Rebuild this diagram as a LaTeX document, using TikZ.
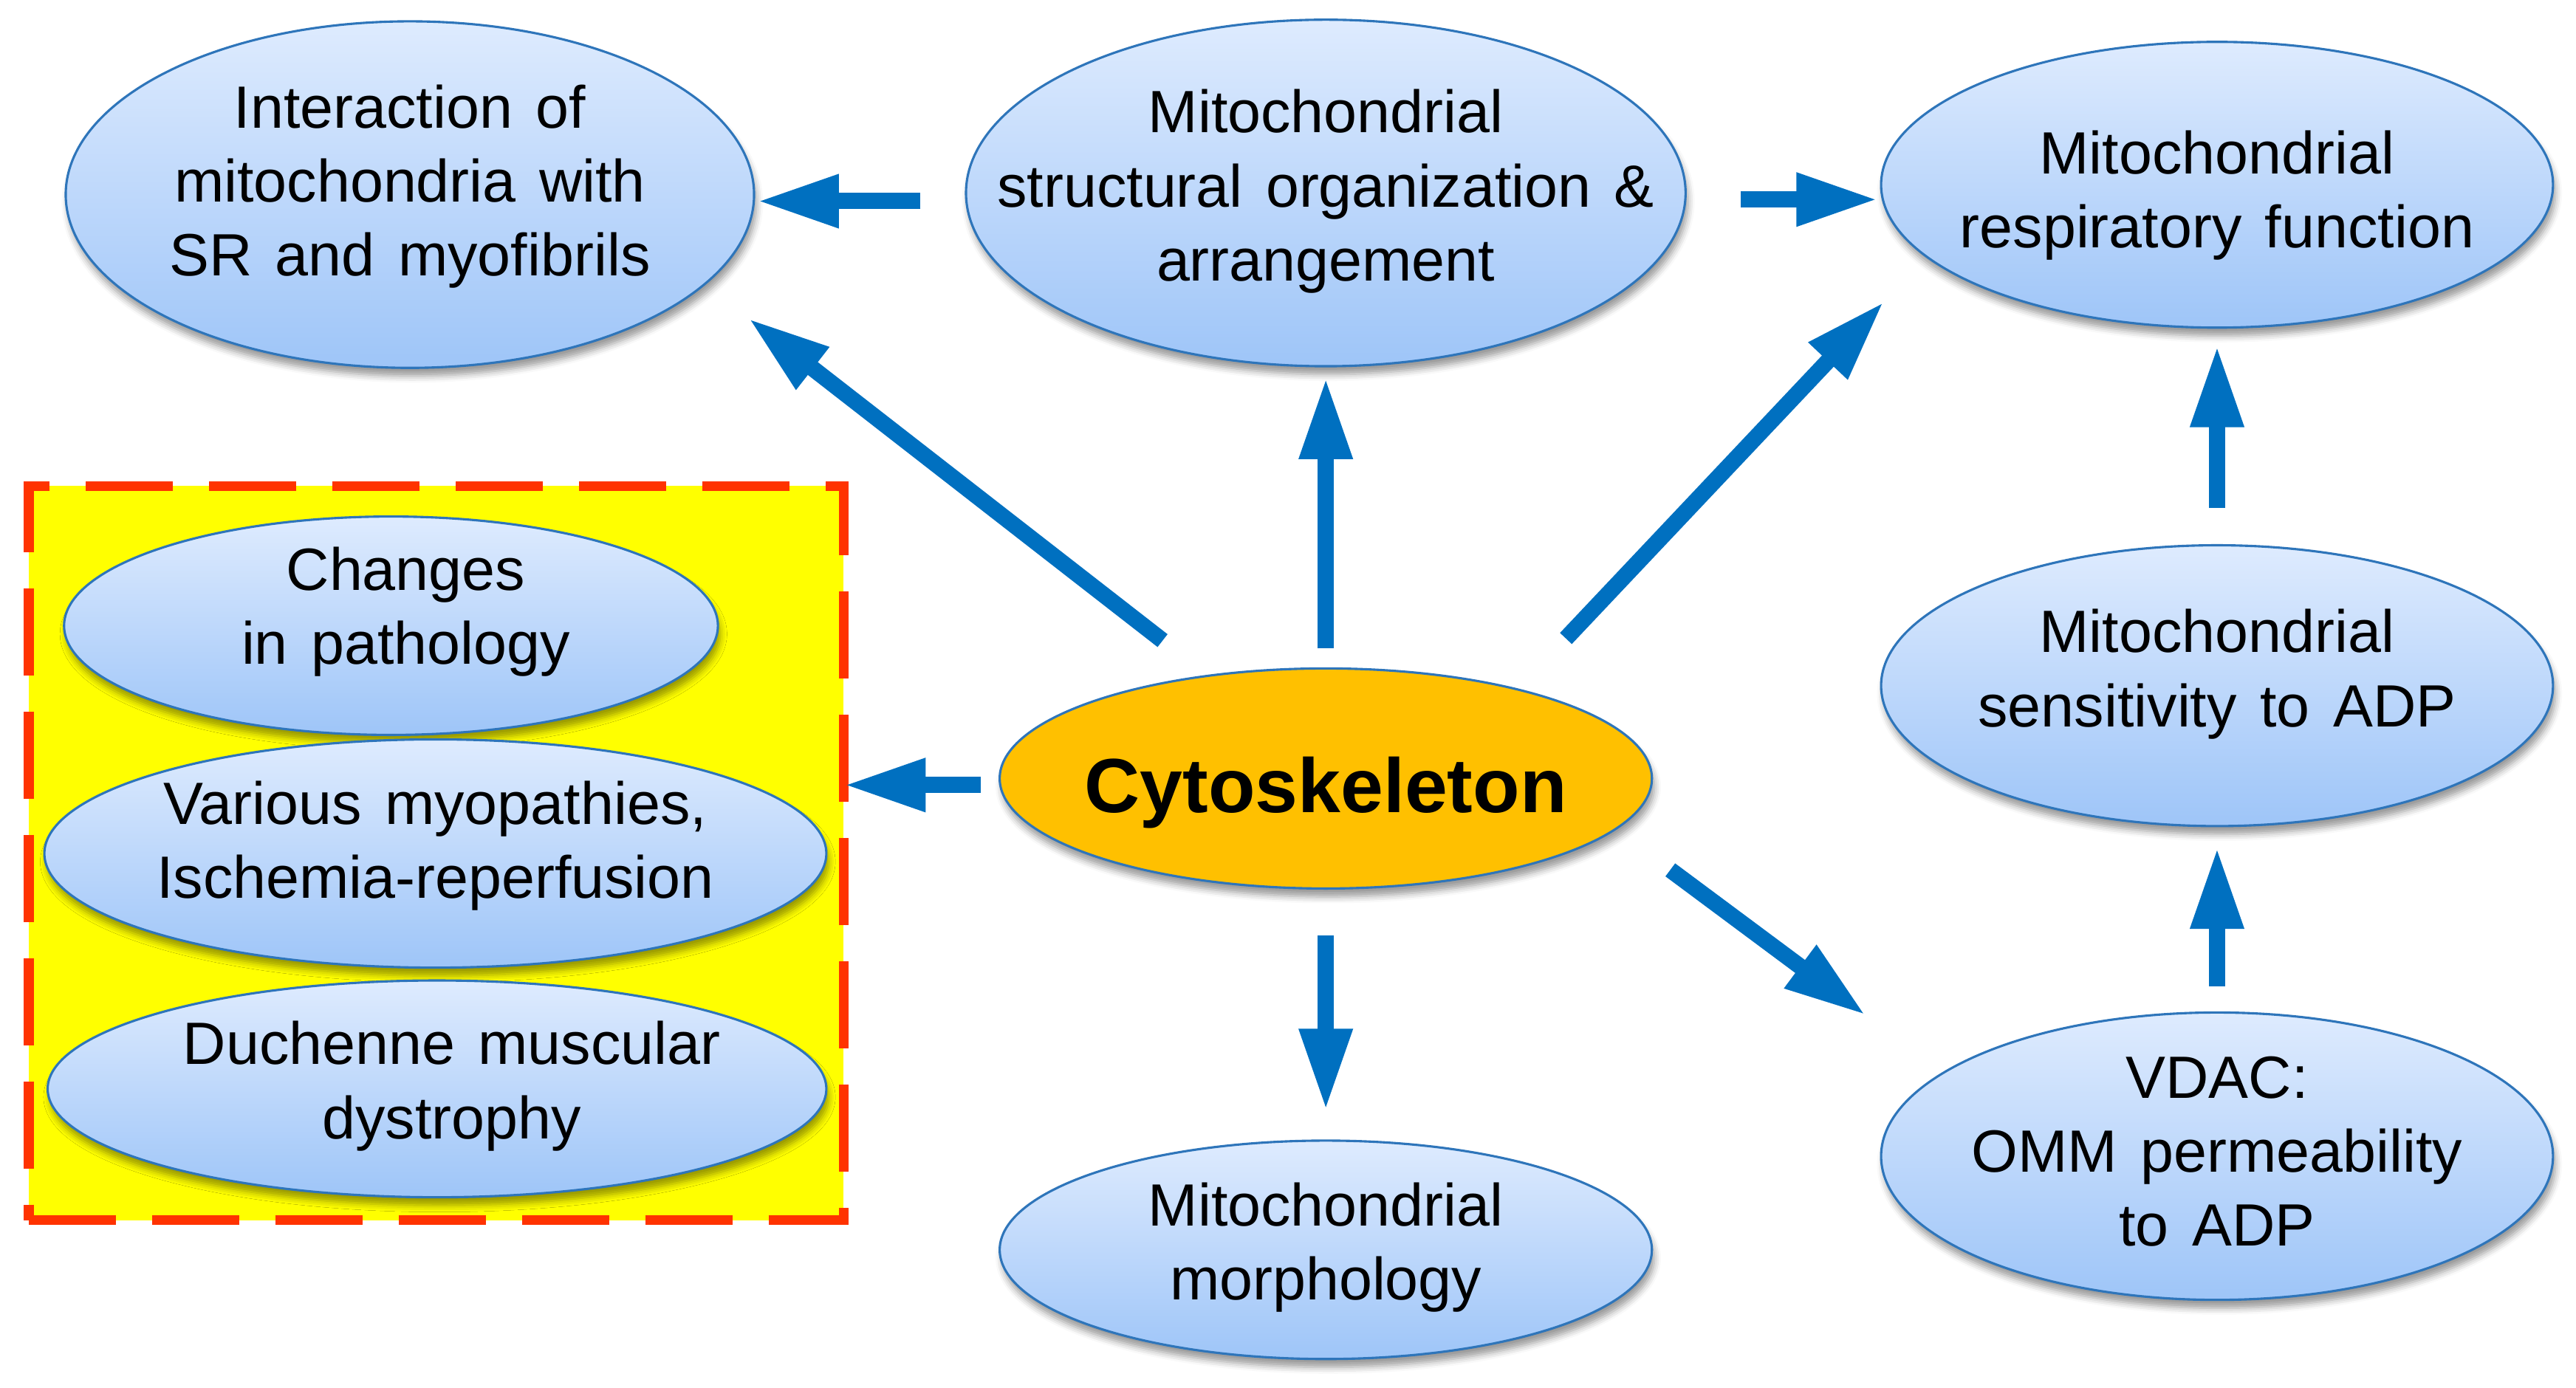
\documentclass[tikz,border=0pt]{standalone}
\usepackage{fontspec}
\setmainfont{Liberation Sans}[WordSpace=1.4]
\usetikzlibrary{shapes.geometric, arrows.meta, shadows.blur}
\definecolor{ovaltop}{RGB}{222, 235, 254}
\definecolor{ovalbottom}{RGB}{158, 197, 248}
\definecolor{ovalline}{RGB}{46, 117, 186}
\definecolor{corefill}{RGB}{255, 192, 0}
\definecolor{flowblue}{RGB}{0, 112, 192}
\definecolor{dashred}{RGB}{255, 51, 0}
\definecolor{boxyellow}{RGB}{255, 255, 0}
\newlength{\pxu}
\setlength{\pxu}{0.022245cm}
\tikzset{
    % Node Styles
    oval/.style={
        ellipse, draw=ovalline, line width=1.4\pxu, inner sep=0pt,
        blur shadow={shadow xshift=1.5\pxu, shadow yshift=-5\pxu,
            shadow blur radius=4\pxu, shadow opacity=40}
    },
    mito/.style={oval, top color=ovaltop, bottom color=ovalbottom},
    core/.style={oval, fill=corefill},
    ovaltext/.style={align=center, font=\fontsize{23}{28.5}\selectfont},
    coretext/.style={font=\bfseries\fontsize{29.6}{35}\selectfont},
    pathobox/.style={
        rectangle, draw=dashred, fill=boxyellow, inner sep=0pt,
        line width=0.133cm, dash pattern=on 1.18cm off 0.49cm
    },
    % Arrow Styles
    flow/.style={-{Triangle[length=1.11cm, width=0.67cm]}, line width=0.22cm, draw=flowblue}
}

\begin{document}
\begin{tikzpicture}[x=\pxu, y=-\pxu]

    \useasboundingbox (0,0) rectangle (1568,844.7);

    % --- 1. Central node ---
    \node [core, minimum width=397\pxu, minimum height=134\pxu,
        label={[coretext, yshift=-8.75\pxu]center:Cytoskeleton}] (cyto) at (807,474) {};

    % --- 2. Top row ---
    \node [mito, minimum width=419\pxu, minimum height=211\pxu,
        label={[ovaltext, yshift=5\pxu]center:{Interaction of\\mitochondria with\\SR and myofibrils}}] (inter) at (249.5,118.5) {};
    \node [mito, minimum width=438\pxu, minimum height=211\pxu,
        label={[ovaltext, yshift=1\pxu]center:{Mitochondrial\\structural organization \&\\arrangement}}] (struct) at (807,117.5) {};
    \node [mito, minimum width=409\pxu, minimum height=174\pxu,
        label={[ovaltext, yshift=-6.3\pxu]center:{Mitochondrial\\respiratory function}}] (resp) at (1349.5,112.5) {};

    % --- 3. Right column ---
    \node [mito, minimum width=409\pxu, minimum height=171\pxu,
        label={[ovaltext, yshift=7\pxu]center:{Mitochondrial\\sensitivity to ADP}}] (sens) at (1349.5,417.5) {};
    \node [mito, minimum width=409\pxu, minimum height=175\pxu,
        label={[ovaltext, yshift=3\pxu]center:{VDAC:\\OMM permeability\\to ADP}}] (vdac) at (1349.5,704) {};

    % --- 4. Bottom ---
    \node [mito, minimum width=397\pxu, minimum height=133\pxu,
        label={[ovaltext, yshift=1.4\pxu]center:{Mitochondrial\\morphology}}] (morph) at (807,761) {};

    % --- 5. Pathology box ---
    \node [pathobox, minimum width=496\pxu, minimum height=447\pxu] (patho) at (265.5,519.4) {};
    \node [mito, minimum width=398\pxu, minimum height=133\pxu,
        label={[ovaltext, yshift=8.5\pxu, xshift=9\pxu]center:{Changes\\in pathology}}] (changes) at (238,381) {};
    \node [mito, minimum width=476\pxu, minimum height=139\pxu,
        label={[ovaltext, yshift=4.7\pxu]center:{Various myopathies,\\Ischemia-reperfusion}}] (various) at (265,519.7) {};
    \node [mito, minimum width=474\pxu, minimum height=132\pxu,
        label={[ovaltext, yshift=1.7\pxu, xshift=9\pxu]center:{Duchenne muscular\\dystrophy}}] (duchenne) at (266,663) {};

    % --- 6. Arrows ---
    \draw [flow, shorten <=27\pxu, shorten >=1\pxu]
        ([yshift=-5\pxu]struct.west) -- ([yshift=-5\pxu]struct.west -| inter.east);
    \draw [flow, shorten <=33\pxu, shorten >=1\pxu]
        ([yshift=-4\pxu]struct.east) -- ([yshift=-4\pxu]struct.east -| resp.west);
    \draw [flow, shorten <=34\pxu, shorten >=33\pxu] (cyto.139) -- (inter.-17.3);
    \draw [flow, shorten <=11.4\pxu, shorten >=6\pxu] (cyto.north) -- (struct.south);
    \draw [flow, shorten <=42\pxu, shorten >=37\pxu] (cyto.25.3) -- (resp.194.9);
    \draw [flow, shorten <=22\pxu, shorten >=10\pxu] (sens.north) -- (resp.south);
    \draw [flow, shorten <=15.4\pxu, shorten >=12\pxu] (vdac.north) -- (sens.south);
    \draw [flow, shorten <=11\pxu, shorten >=-3\pxu]
        ([yshift=-4\pxu]cyto.west) -- ([yshift=-4\pxu]cyto.west -| patho.east);
    \draw [flow, shorten <=28\pxu, shorten >=17.5\pxu] (cyto.south) -- (morph.north);
    \draw [flow, shorten <=41\pxu, shorten >=58\pxu] (cyto.-10.3) -- (vdac.163);

\end{tikzpicture}
\end{document}
